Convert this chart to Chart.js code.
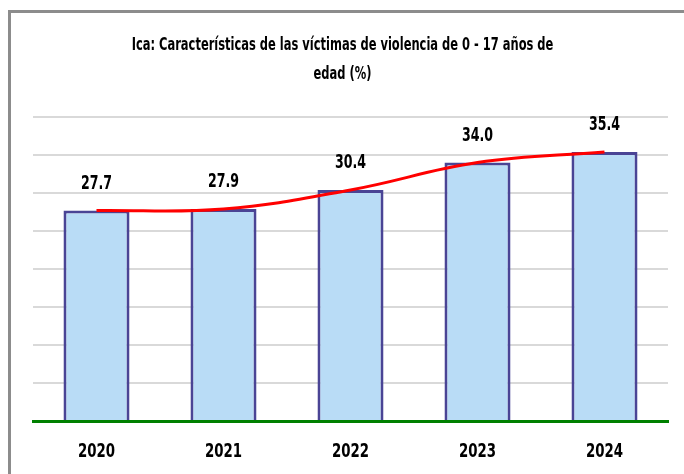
<!DOCTYPE html>
<html>
<head>
<meta charset="utf-8">
<script src="https://cdn.jsdelivr.net/npm/chart.js@4.4.1/dist/chart.umd.min.js"></script>
<style>
  html, body { margin: 0; padding: 0; background: #fff; overflow: hidden; }
  #marco {
    position: absolute; left: 8px; top: 10px;
    width: 676px; height: 464px;
    border-left: 3px solid #8c8c8c; border-top: 3px solid #8c8c8c;
  }
  #grafico { display: block; }
</style>
</head>
<body>
<div id="marco"><canvas id="grafico" width="673" height="461"></canvas></div>
<script>
// Datos del gráfico
const anios = ['2020', '2021', '2022', '2023', '2024'];
const porcentajes = [27.7, 27.9, 30.4, 34.0, 35.4];
const titulo = ['Ica: Características de las víctimas de violencia de 0 - 17 años de', 'edad (%)'];

const fuente = '"DejaVu Sans Condensed", "Liberation Sans", Arial, sans-serif';

// Texto estrecho (tipo Calibri): se comprime en horizontal
function textoEstrecho(ctx, texto, x, y, tam, escala) {
    ctx.save();
    ctx.translate(x, y);
    ctx.scale(escala, 1);
    ctx.font = 'bold ' + tam + 'px ' + fuente;
    ctx.fillStyle = '#000';
    ctx.textAlign = 'center';
    ctx.textBaseline = 'middle';
    ctx.fillText(texto, 0, 0);
    ctx.restore();
}

// Título en dos líneas, centrado sobre el lienzo
const tituloEstrecho = {
    id: 'tituloEstrecho',
    afterDraw(chart) {
        const centro = chart.width / 2 - 5;
        titulo.forEach((linea, i) => {
            textoEstrecho(chart.ctx, linea, centro, 33 + i * 29, 17, 0.75);
        });
    }
};

// Valor encima de cada barra y año debajo del eje
const etiquetasBarras = {
    id: 'etiquetasBarras',
    afterDatasetsDraw(chart) {
        const meta = chart.getDatasetMeta(1);
        meta.data.forEach((barra, i) => {
            textoEstrecho(chart.ctx, porcentajes[i].toFixed(1), barra.x, barra.y - 27, 20, 0.7);
        });
        const ejeX = chart.scales.x;
        anios.forEach((anio, i) => {
            textoEstrecho(chart.ctx, anio, ejeX.getPixelForTick(i), ejeX.top + 31, 19, 0.78);
        });
    }
};

const ctx = document.getElementById('grafico').getContext('2d');
const grafico = new Chart(ctx, {
    type: 'bar',
    data: {
        labels: anios,
        datasets: [
            {
                type: 'line',
                data: porcentajes,
                borderColor: '#ff0000',
                borderWidth: 3,
                pointRadius: 0,
                tension: 0.4,
                fill: false,
                order: 0
            },
            {
                type: 'bar',
                data: porcentajes,
                backgroundColor: '#b9dcf6',
                borderColor: '#4a4495',
                borderWidth: 3,
                borderSkipped: 'bottom',
                barPercentage: 0.52,
                categoryPercentage: 1,
                order: 1
            }
        ]
    },
    options: {
        responsive: false,
        animation: false,
        layout: { padding: { left: 22, right: 16, bottom: 0, top: 104 } },
        plugins: {
            legend: { display: false },
            tooltip: { enabled: false },
            title: { display: false }
        },
        scales: {
            x: {
                grid: { display: false },
                border: { color: '#008000', width: 3 },
                ticks: { display: false },
                afterFit: escala => { escala.height = 53; }
            },
            y: {
                min: 0,
                max: 40,
                ticks: { display: false, stepSize: 5 },
                border: { display: false },
                grid: {
                    color: c => c.tick.value === 0 ? 'rgba(0,0,0,0)' : '#d9d9d9',
                    lineWidth: 2,
                    drawTicks: false
                }
            }
        }
    },
    plugins: [tituloEstrecho, etiquetasBarras]
});
</script>
</body>
</html>
